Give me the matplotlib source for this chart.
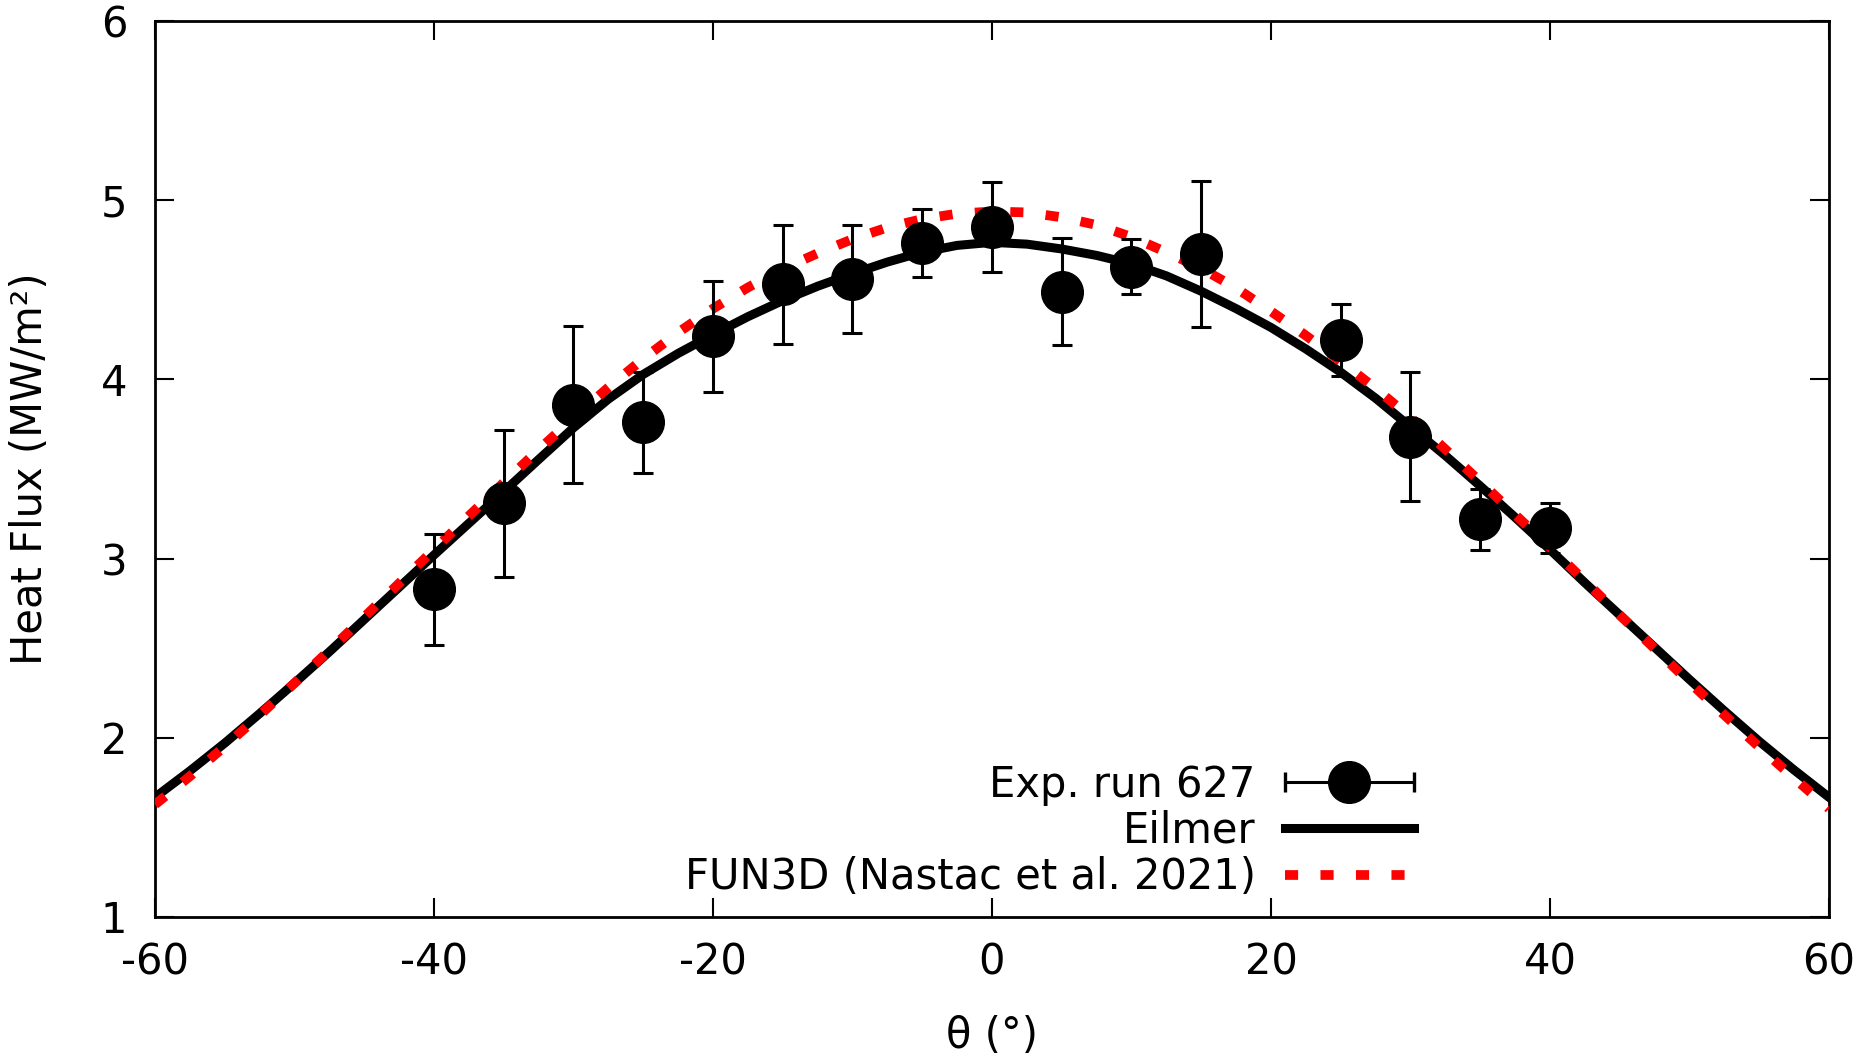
import matplotlib
matplotlib.use("Agg")
import matplotlib.pyplot as plt
from matplotlib.legend_handler import HandlerBase
from matplotlib.lines import Line2D

# Experimental data (run 627)
exp_theta = [-40, -35, -30, -25, -20, -15, -10, -5, 0, 5, 10, 15, 25, 30, 35, 40]
exp_q = [2.83, 3.31, 3.86, 3.76, 4.24, 4.53, 4.56, 4.76, 4.85, 4.49, 4.63, 4.70, 4.22, 3.68, 3.22, 3.17]
exp_err = [0.31, 0.41, 0.44, 0.28, 0.31, 0.33, 0.30, 0.19, 0.25, 0.30, 0.155, 0.41, 0.20, 0.36, 0.17, 0.14]

# Common angle grid of the two simulation curves
sim_theta = [-60, -57.5, -55, -52.5, -50, -47.5, -45, -42.5, -40, -37.5, -35, -32.5,
             -30, -27.5, -25, -22.5, -20, -17.5, -15, -12.5, -10, -7.5, -5, -2.5,
             0, 2.5, 5, 7.5, 10, 12.5, 15, 17.5, 20, 22.5, 25, 27.5, 30, 32.5,
             35, 37.5, 40, 42.5, 45, 47.5, 50, 52.5, 55, 57.5, 60]

# Eilmer
eil_q = [1.668, 1.815, 1.97, 2.135, 2.305, 2.48, 2.66, 2.84, 3.02, 3.197, 3.374, 3.553,
         3.73, 3.89, 4.028, 4.145, 4.25, 4.35, 4.44, 4.52, 4.59, 4.655, 4.71, 4.748,
         4.765, 4.755, 4.728, 4.692, 4.645, 4.578, 4.492, 4.395, 4.29, 4.17, 4.04, 3.895,
         3.735, 3.575, 3.405, 3.23, 3.05, 2.865, 2.685, 2.505, 2.325, 2.15, 1.98, 1.82, 1.668]

# FUN3D (Nastac et al. 2021)
fun_q = [1.628, 1.785, 1.952, 2.126, 2.305, 2.488, 2.674, 2.862, 3.05, 3.238, 3.424, 3.607,
         3.785, 3.955, 4.115, 4.262, 4.395, 4.513, 4.616, 4.704, 4.783, 4.848, 4.895, 4.925,
         4.937, 4.932, 4.905, 4.862, 4.795, 4.71, 4.62, 4.51, 4.38, 4.245, 4.10, 3.95,
         3.787, 3.61, 3.43, 3.245, 3.063, 2.875, 2.685, 2.498, 2.31, 2.127, 1.948, 1.775, 1.605]

xticks = [-60, -40, -20, 0, 20, 40, 60]
yticks = [1, 2, 3, 4, 5, 6]

plt.rcParams['font.family'] = ['DejaVu Sans']
plt.rcParams['axes.unicode_minus'] = False


class HorizErrHandler(HandlerBase):
    """gnuplot-style key sample: horizontal bar with end caps and a dot."""
    def create_artists(self, legend, orig_handle, xdescent, ydescent,
                       width, height, fontsize, trans):
        y = height / 2 - ydescent
        x0 = -xdescent
        x1 = -xdescent + width
        bar = Line2D([x0, x1], [y, y], color='black', lw=2.2, transform=trans)
        caps = Line2D([x0, x1], [y, y], color='black', lw=0, marker='|',
                      markersize=14, markeredgewidth=2.4, transform=trans)
        dot = Line2D([(x0 + x1) / 2], [y], color='black', lw=0, marker='o',
                     markersize=30, transform=trans)
        return [bar, caps, dot]


fig = plt.figure(figsize=(18.65, 10.58), dpi=100)
ax = fig.add_axes([0.0831, 0.1333, 0.9807 - 0.0831, 0.9801 - 0.1333])

l_eil, = ax.plot(sim_theta, eil_q, color='black', lw=6.5, solid_joinstyle='round',
                 label='Eilmer', zorder=2)
l_fun, = ax.plot(sim_theta, fun_q, color='red', lw=7, dashes=(1.35, 2.3),
                 dash_capstyle='butt', label='FUN3D (Nastac et al. 2021)', zorder=3)
eb = ax.errorbar(exp_theta, exp_q, yerr=exp_err, fmt='o', color='black', ms=30,
                 elinewidth=2.2, capsize=7.2, capthick=2.2, label='Exp. run 627', zorder=4)

ax.set_xlim(-60, 60)
ax.set_ylim(1, 6)
ax.set_xticks(xticks)
ax.set_yticks(yticks)
ax.tick_params(direction='in', length=13.5, width=1.5, top=True, right=True,
               labelsize=30, pad=20)
ax.tick_params(axis='x', pad=18)
for s in ax.spines.values():
    s.set_linewidth(2)

ax.set_xlabel('θ (°)', fontsize=30, labelpad=22)
ax.set_ylabel('Heat Flux (MW/m²)', fontsize=30, labelpad=36)

leg = ax.legend([eb, l_eil, l_fun],
                ['Exp. run 627', 'Eilmer', 'FUN3D (Nastac et al. 2021)'],
                handler_map={eb: HorizErrHandler()},
                loc='lower right', bbox_to_anchor=(0.752, 0.021), borderaxespad=0,
                borderpad=0, frameon=False, markerfirst=False, fontsize=30,
                handlelength=3.1, handletextpad=0.7, labelspacing=0.1)

fig.savefig('out.png', dpi=100)
